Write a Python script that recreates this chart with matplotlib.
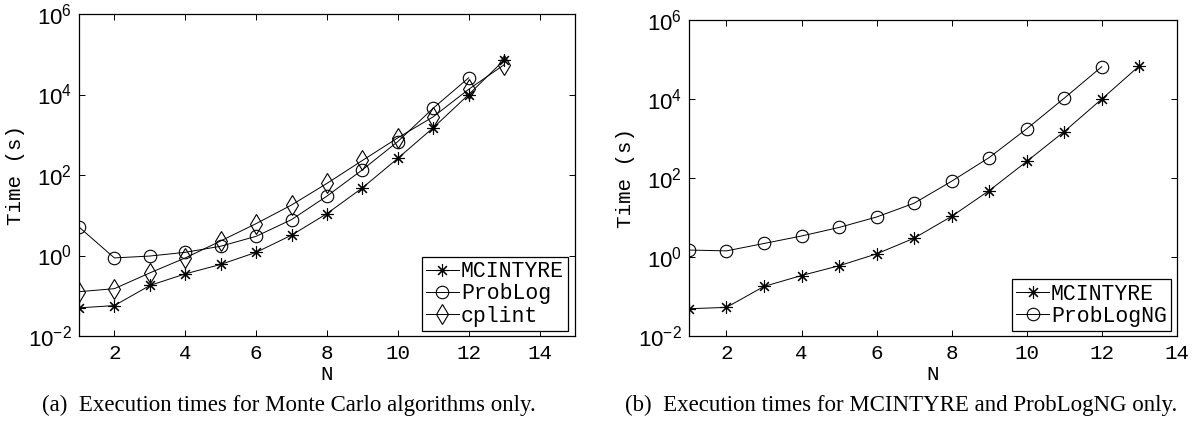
import matplotlib
matplotlib.use("Agg")
import matplotlib.pyplot as plt

# Execution times (s), N = 1..13
n_all = list(range(1, 14))
n_12 = list(range(1, 13))

mcintyre = [0.05, 0.057, 0.18, 0.35, 0.6, 1.2, 3.2, 11, 48, 260, 1500, 10000, 72000]
problog = [5.1, 0.87, 0.97, 1.2, 1.7, 3.0, 7.8, 30, 135, 680, 4600, 26000]
cplint = [0.126, 0.15, 0.37, 0.87, 2.3, 6.2, 18, 62, 230, 840, 2800, 13500, 55000]

mcintyre_b = [0.049, 0.053, 0.18, 0.34, 0.6, 1.2, 3.0, 10.7, 48, 263, 1500, 10000, 69000]
problog_ng = [1.5, 1.43, 2.2, 3.4, 5.6, 10.3, 23, 83, 330, 1760, 10500, 66000]

x_ticks = [2, 4, 6, 8, 10, 12, 14]
y_ticks = [1e-2, 1e0, 1e2, 1e4, 1e6]

mono = "Liberation Mono"
star = (8, 2, 0)

fig = plt.figure(figsize=(11.93, 4.3), dpi=100)
ax_a = fig.add_axes([0.0662, 0.2186, 0.4158, 0.7488])
ax_b = fig.add_axes([0.5775, 0.2186, 0.4090, 0.7349])

style = dict(color="black", linewidth=0.7, markerfacecolor="none",
             markeredgecolor="black", markeredgewidth=0.8)

ax_a.plot(n_all, mcintyre, marker=star, markersize=9, label="MCINTYRE", **style)
ax_a.plot(n_12, problog, marker="o", markersize=9, label="ProbLog", **style)
ax_a.plot(n_all, cplint, marker="d", markersize=10, label="cplint", **style)
ax_a.set_xlim(1, 15)

ax_b.plot(n_all, mcintyre_b, marker=star, markersize=9, label="MCINTYRE", **style)
ax_b.plot(n_12, problog_ng, marker="o", markersize=9, label="ProbLogNG", **style)
ax_b.set_xlim(1, 14)

for ax in (ax_a, ax_b):
    ax.set_yscale("log")
    ax.set_ylim(1e-2, 1e6)
    ax.set_yticks(y_ticks)
    ax.minorticks_off()
    ax.set_xticks(x_ticks)
    ax.tick_params(direction="in", length=4, width=0.7, top=True, right=True)
    ax.tick_params(axis="x", pad=6)
    ax.tick_params(axis="y", pad=5)
    for lbl in ax.get_xticklabels():
        lbl.set_fontfamily(mono)
        lbl.set_fontsize(15)
    for lbl in ax.get_yticklabels():
        lbl.set_fontfamily("Liberation Sans")
        lbl.set_fontsize(16)
    for sp in ax.spines.values():
        sp.set_linewidth(0.9)
    ax.set_xlabel("N", fontfamily=mono, fontsize=15, labelpad=1)
    ax.set_ylabel("Time (s)", fontfamily=mono, fontsize=15, labelpad=2)

leg_kw = dict(loc="lower right", prop={"family": mono, "size": 15.5}, fancybox=False,
              framealpha=1, edgecolor="black", borderaxespad=0, handlelength=1.5,
              handletextpad=0.1, labelspacing=0.05, borderpad=0.2)
leg_a = ax_a.legend(bbox_to_anchor=(0.986, 0.016), **leg_kw)
leg_b = ax_b.legend(bbox_to_anchor=(0.988, 0.016), **leg_kw)
for leg in (leg_a, leg_b):
    leg.get_frame().set_linewidth(0.9)

fig.text(0.2423, 0.058, "(a)  Execution times for Monte Carlo algorithms only.",
         ha="center", va="center", fontfamily="Liberation Serif", fontsize=16.5)
fig.text(0.7552, 0.058, "(b)  Execution times for MCINTYRE and ProbLogNG only.",
         ha="center", va="center", fontfamily="Liberation Serif", fontsize=16.5)

fig.savefig("out.png", dpi=100)
